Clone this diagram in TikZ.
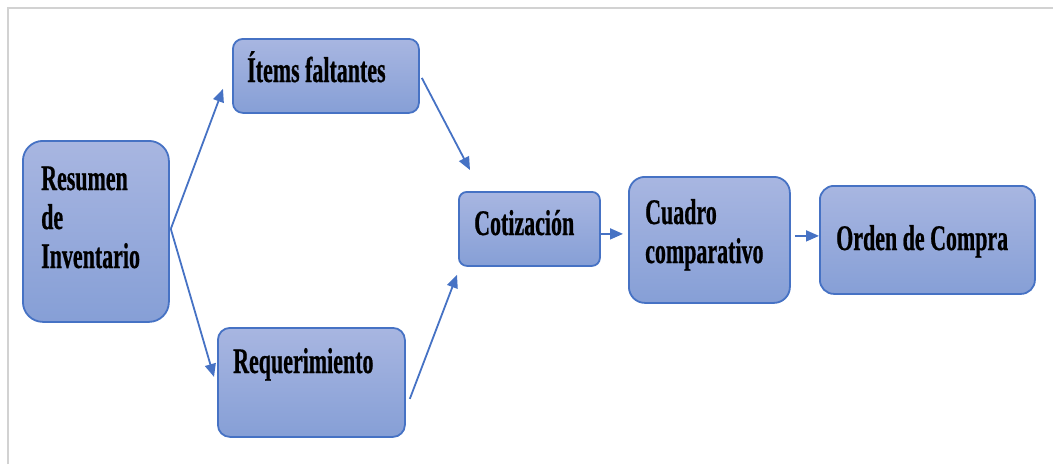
\documentclass[tikz,border=0pt]{standalone}
\usepackage{fontspec}
\setmainfont{Liberation Serif}
\newfontfamily\boxfont[FakeStretch=0.61,FakeBold=0.6]{Liberation Serif}
\usetikzlibrary{arrows.meta}
\definecolor{edgeblue}{RGB}{70,114,196}
\definecolor{filltop}{RGB}{168,182,225}
\definecolor{fillbot}{RGB}{134,159,214}
\definecolor{framegray}{RGB}{210,210,210}
\tikzset{
  box/.style={draw=edgeblue, line width=1.8pt, top color=filltop, bottom color=fillbot,
    rectangle, inner sep=0pt, anchor=north west},
  lbl/.style={anchor=base west, inner sep=0pt, font=\boxfont\bfseries\fontsize{36}{39}\selectfont, align=left},
  arr/.style={draw=edgeblue, line width=1.8pt, -{Triangle[length=13pt,width=11pt]}}
}
\begin{document}
\begin{tikzpicture}[x=1pt,y=-1pt]
\useasboundingbox (0,0) rectangle (1053,464);
\draw[framegray, line width=2pt] (8,464) -- (8,8) -- (1053,8);
% boxes
\node[box, rounded corners=20pt, minimum width=146pt, minimum height=181pt] (res) at (22,140) {};
\node[box, rounded corners=10pt, minimum width=186pt, minimum height=74pt] (ite) at (232,38) {};
\node[box, rounded corners=12pt, minimum width=187pt, minimum height=109pt] (req) at (217,327) {};
\node[box, rounded corners=8pt, minimum width=141pt, minimum height=74pt] (cot) at (458,191) {};
\node[box, rounded corners=16pt, minimum width=161pt, minimum height=126pt] (cua) at (628,176) {};
\node[box, rounded corners=14pt, minimum width=215pt, minimum height=108pt] (ord) at (819,185) {};
% labels (base = last line)
\node[lbl] (resT) at (41,268) {Resumen\\de\\Inventario};
\node[lbl] (iteT) at (247,82) {Ítems faltantes};
\node[lbl] (reqT) at (233,373) {Requerimiento};
\node[lbl] (cotT) at (474,235) {Cotización};
\node[lbl] (cuaT) at (645,263) {Cuadro\\comparativo};
\node[lbl] (ordT) at (836,250) {Orden de Compra};
% connectors
\draw[arr] ([xshift=1pt,yshift=2.5pt]res.east) -- ([xshift=-9pt,yshift=-13pt]ite.west);
\draw[arr] ([xshift=1pt,yshift=2.5pt]res.east) -- ([xshift=-3pt,yshift=5.5pt]req.west);
\draw[arr] ([xshift=2pt,yshift=-2pt]ite.east) -- ([xshift=12pt,yshift=21pt]cot.north west);
\draw[arr] ([xshift=4pt,yshift=-16.5pt]req.east) -- ([xshift=-1pt,yshift=-8pt]cot.south west);
\draw[arr] ([xshift=-2pt,yshift=-5pt]cot.east) -- ([xshift=-5pt,yshift=6pt]cua.west);
\draw[arr] ([xshift=4pt,yshift=4pt]cua.east) -- ([xshift=0pt,yshift=4pt]ord.west);
\end{tikzpicture}
\end{document}
